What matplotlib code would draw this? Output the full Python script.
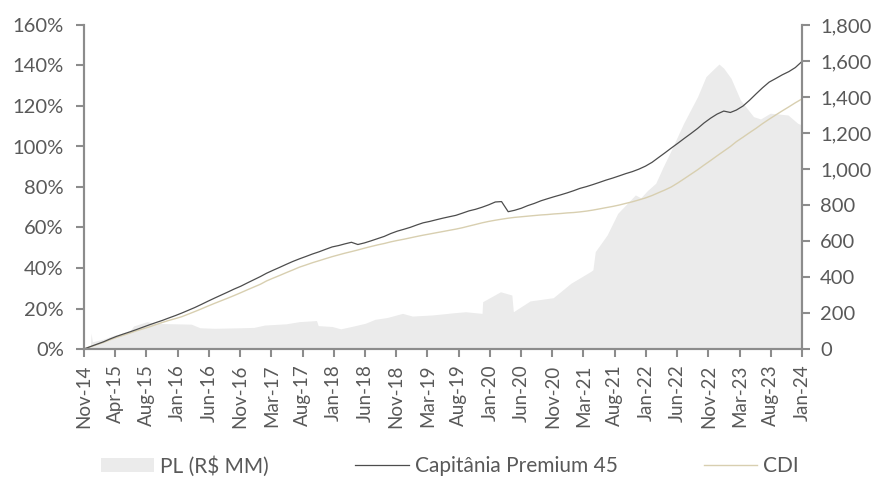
import matplotlib
matplotlib.use("Agg")
import matplotlib.pyplot as plt
import matplotlib.dates as mdates
from matplotlib.patches import Patch
from matplotlib.lines import Line2D
from matplotlib.ticker import FuncFormatter
import numpy as np
import pandas as pd

plt.rcParams['font.family'] = ['Lato', 'DejaVu Sans']

# ---- data ----
months = pd.date_range("2014-11-01", "2024-01-01", freq="MS")

capitania = [0, 1.2, 2.4, 3.6, 4.9, 6.2, 7.3, 8.4, 9.5, 10.7,
             11.9, 13.0, 14.1, 15.3, 16.5, 17.8, 19.1, 20.5, 22.0, 23.6,
             25.1, 26.6, 28.1, 29.6, 31.0, 32.6, 34.2, 35.8, 37.4, 38.9,
             40.3, 41.8, 43.2, 44.5, 45.7, 46.9, 48.0, 49.2, 50.4, 51.1,
             51.9, 52.7, 51.6, 52.4, 53.4, 54.5, 55.6, 57.0, 58.2, 59.1,
             60.1, 61.3, 62.3, 63.0, 63.8, 64.6, 65.3, 66.0, 67.1, 68.2,
             69.0, 70.0, 71.2, 72.6, 72.8, 67.8, 68.5, 69.5, 70.8, 71.9,
             73.2, 74.2, 75.2, 76.1, 77.1, 78.2, 79.3, 80.2, 81.2, 82.3,
             83.4, 84.4, 85.5, 86.6, 87.6, 88.8, 90.3, 92.2, 94.4, 96.8,
             99.2, 101.6, 104.0, 106.4, 108.9, 111.6, 114.0, 116.0, 117.5, 116.8,
             118.0, 120.0, 122.8, 126.0, 129.0, 131.8, 133.6, 135.4, 137.0, 139.0,
             142.0]

cdi = [0, 1.1, 2.2, 3.3, 4.5, 5.7, 6.7, 7.8, 8.9, 9.9,
       10.9, 12.0, 13.1, 14.1, 15.0, 16.0, 17.2, 18.5, 19.8, 21.2,
       22.5, 23.8, 25.1, 26.4, 27.8, 29.2, 30.6, 32.0, 33.6, 35.0,
       36.3, 37.7, 39.0, 40.4, 41.5, 42.6, 43.6, 44.6, 45.6, 46.5,
       47.3, 48.1, 48.9, 49.8, 50.6, 51.4, 52.1, 52.9, 53.6, 54.2,
       54.9, 55.6, 56.2, 56.8, 57.4, 58.0, 58.6, 59.2, 59.9, 60.7,
       61.5, 62.3, 63.0, 63.6, 64.1, 64.6, 65.0, 65.3, 65.6, 65.9,
       66.2, 66.4, 66.7, 66.9, 67.2, 67.4, 67.7, 68.1, 68.6, 69.2,
       69.8, 70.4, 71.1, 71.9, 72.7, 73.6, 74.6, 75.8, 77.1, 78.5,
       80.0, 82.0, 84.1, 86.3, 88.5, 90.8, 93.1, 95.4, 97.7, 100.0,
       102.4, 104.6, 106.8, 109.0, 111.3, 113.5, 115.6, 117.6, 119.6, 121.6,
       123.5]

pl_dates = ["2014-11-01", "2014-12-01", "2014-12-04", "2014-12-10", "2015-02-01",
            "2015-03-25", "2015-06-01", "2015-06-20", "2015-08-22", "2015-10-01",
            "2016-01-01", "2016-03-15", "2016-04-25", "2016-07-01", "2016-11-01",
            "2017-01-01", "2017-02-20", "2017-06-01", "2017-08-01", "2017-10-20",
            "2017-10-28", "2018-01-01", "2018-02-10", "2018-04-01", "2018-06-05",
            "2018-07-20", "2018-09-15", "2018-11-25", "2019-01-10", "2019-04-12",
            "2019-07-28", "2019-09-15", "2019-12-01", "2019-12-04", "2020-02-25",
            "2020-04-18", "2020-04-25", "2020-07-12", "2020-10-28", "2020-12-01",
            "2021-01-18", "2021-04-18", "2021-05-01", "2021-05-12", "2021-07-06",
            "2021-08-25", "2021-10-01", "2021-11-15", "2021-12-10", "2022-01-10",
            "2022-02-18", "2022-03-25", "2022-04-28", "2022-06-28", "2022-09-01",
            "2022-10-10", "2022-11-15", "2022-12-10", "2023-01-01", "2023-02-04",
            "2023-03-20", "2023-05-20", "2023-06-22", "2023-08-06", "2023-10-28",
            "2023-12-12", "2024-01-01"]
pl_values = [10, 12, 88, 40, 55,
             78, 95, 128, 152, 142,
             140, 138, 118, 115, 118,
             120, 133, 140, 152, 158,
             130, 125, 112, 125, 143,
             165, 175, 198, 183, 189,
             202, 207, 198, 263, 318,
             300, 207, 267, 285, 318,
             365, 429, 440, 541, 633,
             754, 800, 856, 840, 880,
             921, 1013, 1096, 1254, 1402,
             1513, 1555, 1583, 1560, 1504,
             1383, 1291, 1278, 1310, 1300,
             1254, 1244]

tick_labels = ["Nov-14", "Apr-15", "Aug-15", "Jan-16", "Jun-16", "Nov-16", "Mar-17",
               "Aug-17", "Jan-18", "Jun-18", "Nov-18", "Mar-19", "Aug-19", "Jan-20",
               "Jun-20", "Nov-20", "Mar-21", "Aug-21", "Jan-22", "Jun-22", "Nov-22",
               "Mar-23", "Aug-23", "Jan-24"]

# ---- styles ----
text_c = "#595959"
spine_c = "#8c8c8c"
pl_c = "#ebebeb"
cap_c = "#4d4d4d"
cdi_c = "#d8cfb0"

fig = plt.figure(figsize=(8.78, 4.80), dpi=100)
ax = fig.add_axes([84/878, 1-349/480, (802-84)/878, (349-25)/480])
ax2 = ax.twinx()

pl_x = pd.to_datetime(pl_dates)
ax.fill_between(pl_x, 0, pl_values, color=pl_c, linewidth=0)
ax.set_ylim(0, 1800)
ax.set_yticks(np.arange(0, 1801, 200))
ax.yaxis.tick_right()
ax.yaxis.set_major_formatter(FuncFormatter(lambda v, p: f"{int(v):,}"))

ax2.plot(months, cdi, color=cdi_c, lw=1.0)
ax2.plot(months, capitania, color=cap_c, lw=0.9)
ax2.set_ylim(0, 160)
ax2.set_yticks(np.arange(0, 161, 20))
ax2.yaxis.tick_left()
ax2.yaxis.set_major_formatter(FuncFormatter(lambda v, p: f"{int(v)}%"))

x0 = mdates.date2num(months[0])
x1 = mdates.date2num(months[-1])
ax.set_xlim(x0, x1)
ax2.set_xlim(x0, x1)
ticks = np.linspace(x0, x1, len(tick_labels))
ax.set_xticks(ticks)
ax.set_xticklabels(tick_labels, rotation=90)

for a in (ax, ax2):
    a.spines["top"].set_visible(False)
    for s in ("left", "right", "bottom"):
        a.spines[s].set_color(spine_c)
        a.spines[s].set_linewidth(1.5)
    a.tick_params(axis="both", colors=spine_c, labelcolor=text_c,
                  length=6, width=1.5, direction="out")
ax.tick_params(axis="x", labelsize=13.5, pad=5)
ax.tick_params(axis="y", labelsize=14.5, pad=7)
ax2.tick_params(axis="y", labelsize=14.5, pad=8.5)
ax2.tick_params(axis="x", which="both", bottom=False, labelbottom=False)

handles = [Patch(facecolor=pl_c, edgecolor="none"),
           Line2D([], [], color=cap_c, lw=0.9),
           Line2D([], [], color=cdi_c, lw=1.0)]
labels = ["PL (R$ MM)", "Capitânia Premium 45", "CDI"]
leg = fig.legend(handles, labels, loc="center", bbox_to_anchor=(0.5125, 0.029),
                 ncol=3, frameon=False, fontsize=15, labelcolor=text_c,
                 handlelength=2.55, handletextpad=0.3, columnspacing=4.15)

fig.savefig("out.png", dpi=100)
